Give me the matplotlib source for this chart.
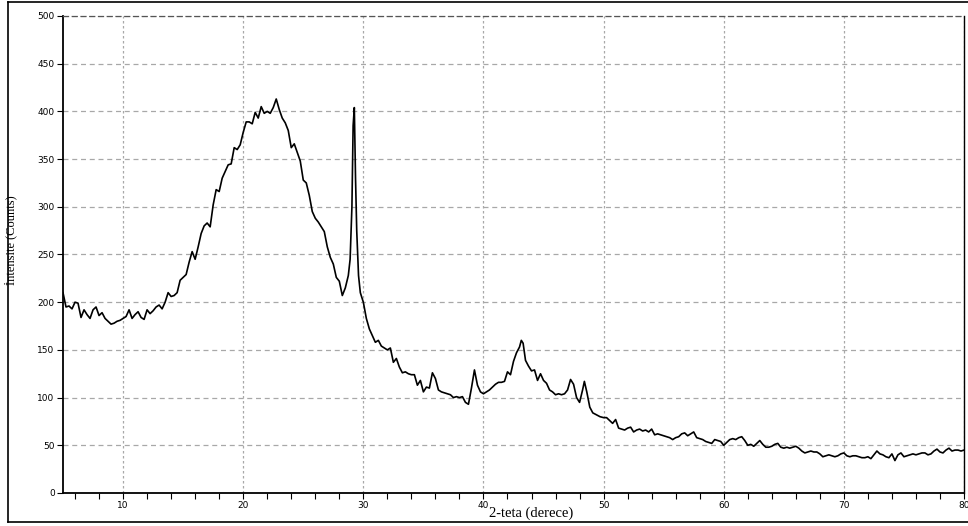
import numpy as np
import matplotlib
matplotlib.use("Agg")
import matplotlib.pyplot as plt
from matplotlib.lines import Line2D

# XRD pattern (2-theta in degrees, counts)
two_theta = [
    5.0, 5.25, 5.5, 5.75, 6.0, 6.25, 6.5, 6.75, 7.0, 7.25, 7.5, 7.75, 8.0, 8.25, 8.5, 8.75,
    9.0, 9.25, 9.5, 9.75, 10.0, 10.25, 10.5, 10.75, 11.0, 11.25, 11.5, 11.75, 12.0, 12.25,
    12.5, 12.75, 13.0, 13.25, 13.5, 13.75, 14.0, 14.25, 14.5, 14.75, 15.0, 15.25, 15.5,
    15.75, 16.0, 16.25, 16.5, 16.75, 17.0, 17.25, 17.5, 17.75, 18.0, 18.25, 18.5, 18.75,
    19.0, 19.25, 19.5, 19.75, 20.0, 20.25, 20.5, 20.75, 21.0, 21.25, 21.5, 21.75, 22.0,
    22.25, 22.5, 22.75, 23.0, 23.25, 23.5, 23.75, 24.0, 24.25, 24.5, 24.75, 25.0, 25.25,
    25.5, 25.75, 26.0, 26.25, 26.5, 26.75, 27.0, 27.25, 27.5, 27.75, 28.0, 28.25, 28.5,
    28.75, 28.9, 29.05, 29.15, 29.25, 29.35, 29.45, 29.6, 29.75, 30.0, 30.25, 30.5, 30.75,
    31.0, 31.25, 31.5, 31.75, 32.0, 32.25, 32.5, 32.75, 33.0, 33.25, 33.5, 33.75, 34.0,
    34.25, 34.5, 34.75, 35.0, 35.25, 35.5, 35.75, 36.0, 36.25, 36.5, 36.75, 37.0, 37.25,
    37.5, 37.75, 38.0, 38.25, 38.5, 38.75, 39.0, 39.25, 39.5, 39.75, 40.0, 40.25, 40.5,
    40.75, 41.0, 41.25, 41.5, 41.75, 42.0, 42.25, 42.5, 42.75, 43.0, 43.15, 43.3, 43.5,
    43.75, 44.0, 44.25, 44.5, 44.75, 45.0, 45.25, 45.5, 45.75, 46.0, 46.25, 46.5, 46.75,
    47.0, 47.25, 47.5, 47.75, 48.0, 48.25, 48.4, 48.6, 48.85, 49.1, 49.4, 49.7, 50.0,
    50.25, 50.5, 50.75, 51.0, 51.25, 51.5, 51.75, 52.0, 52.25, 52.5, 52.75, 53.0, 53.25,
    53.5, 53.75, 54.0, 54.25, 54.5, 54.75, 55.0, 55.25, 55.5, 55.75, 56.0, 56.25, 56.5,
    56.75, 57.0, 57.25, 57.5, 57.75, 58.0, 58.25, 58.5, 58.75, 59.0, 59.25, 59.5, 59.75,
    60.0, 60.25, 60.5, 60.75, 61.0, 61.25, 61.5, 61.75, 62.0, 62.25, 62.5, 62.75, 63.0,
    63.25, 63.5, 63.75, 64.0, 64.25, 64.5, 64.75, 65.0, 65.25, 65.5, 65.75, 66.0, 66.25,
    66.5, 66.75, 67.0, 67.25, 67.5, 67.75, 68.0, 68.25, 68.5, 68.75, 69.0, 69.25, 69.5,
    69.75, 70.0, 70.25, 70.5, 70.75, 71.0, 71.25, 71.5, 71.75, 72.0, 72.25, 72.5, 72.75,
    73.0, 73.25, 73.5, 73.75, 74.0, 74.25, 74.5, 74.75, 75.0, 75.25, 75.5, 75.75, 76.0,
    76.25, 76.5, 76.75, 77.0, 77.25, 77.5, 77.75, 78.0, 78.25, 78.5, 78.75, 79.0, 79.25,
    79.5, 79.75, 80.0,
]
counts = [
    210, 195, 196, 193, 200, 199, 184, 192, 187, 183, 192, 195, 186, 189, 183, 180,
    177, 178, 180, 181, 183, 185, 192, 183, 187, 190, 184, 182, 192, 188,
    191, 195, 197, 193, 200, 210, 206, 207, 210, 223, 226, 229, 242,
    253, 245, 258, 272, 280, 283, 279, 302, 318, 316, 330, 337, 344,
    345, 362, 360, 365, 378, 389, 389, 387, 399, 393, 405, 398, 400,
    398, 404, 413, 402, 393, 388, 380, 362, 366, 357, 348, 328, 325,
    312, 295, 288, 284, 279, 274, 258, 247, 240, 226, 222, 207, 215,
    228, 245, 300, 385, 404, 330, 275, 228, 210, 200, 183, 172, 165,
    158, 160, 154, 152, 150, 152, 137, 141, 132, 126, 127, 125, 124,
    124, 113, 118, 106, 111, 110, 126, 120, 108, 106, 105, 104, 103,
    100, 101, 100, 101, 95, 93, 110, 129, 113, 106, 104, 106, 108,
    111, 114, 116, 116, 117, 127, 124, 138, 147, 153, 160, 157, 139,
    133, 128, 129, 118, 125, 118, 115, 108, 106, 103, 104, 103, 104,
    108, 119, 114, 100, 95, 108, 117, 106, 90, 84, 82, 80, 79,
    79, 76, 73, 77, 68, 67, 66, 68, 69, 64, 66, 67, 65,
    66, 64, 67, 61, 62, 61, 60, 59, 58, 56, 58, 59, 62,
    63, 60, 62, 64, 58, 57, 56, 54, 53, 52, 56, 55, 54,
    50, 53, 56, 57, 56, 58, 59, 55, 50, 51, 49, 52, 55,
    51, 48, 48, 49, 51, 52, 48, 47, 48, 47, 48, 49, 47,
    44, 42, 43, 44, 43, 43, 41, 38, 39, 40, 39, 38, 39,
    41, 42, 39, 38, 39, 39, 38, 37, 37, 38, 36, 40, 44,
    41, 40, 38, 37, 41, 34, 40, 42, 38, 39, 40, 41, 40,
    41, 42, 42, 40, 41, 44, 46, 43, 42, 45, 47, 44, 45,
    45, 44, 45,
]

x_major = [10, 20, 30, 40, 50, 60, 70, 80]
y_major = [0, 50, 100, 150, 200, 250, 300, 350, 400, 450, 500]

fig = plt.figure(figsize=(9.68, 5.26), dpi=100)
ax = fig.add_axes([63 / 968, 1 - 493 / 526, 901 / 968, 477 / 526])

ax.plot(two_theta, counts, color="black", linewidth=1.2)

ax.set_xlim(5, 80)
ax.set_ylim(0, 500)
ax.set_xticks(x_major)
ax.set_xticks(np.arange(6, 80, 2), minor=True)
ax.set_yticks(y_major)

ax.grid(True, axis="x", color="#a8a8a8", linestyle=(0, (2, 2)), linewidth=0.9)
ax.grid(True, axis="y", color="#a8a8a8", linestyle=(0, (4, 3)), linewidth=0.9)
ax.set_axisbelow(True)

ax.tick_params(axis="both", which="major", length=4, width=0.8, labelsize=6.5,
               colors="black", pad=2)
ax.tick_params(axis="x", which="minor", length=4, width=0.8)

for side in ["left", "bottom"]:
    ax.spines[side].set_linewidth(1.3)
ax.spines["right"].set_linewidth(1.0)
ax.spines["top"].set_linestyle((0, (4, 3)))
ax.spines["top"].set_color("#555555")
ax.spines["top"].set_linewidth(0.9)

ax.set_xlabel("2-teta (derece)", family="Liberation Serif", fontsize=10.5)
ax.xaxis.set_label_coords(0.52, -0.029)
ax.set_ylabel("İntensite (Counts)", family="Liberation Serif", fontsize=9)
ax.yaxis.set_label_coords(-0.051, 0.53)

# outer frame of the original screenshot
frame_kw = dict(color="black", linewidth=1.2, transform=fig.transFigure)
fig.add_artist(Line2D([8 / 968, 8 / 968], [4 / 526, 1 - 2 / 526], **frame_kw))
fig.add_artist(Line2D([8 / 968, 1], [1 - 2 / 526, 1 - 2 / 526], **frame_kw))
fig.add_artist(Line2D([8 / 968, 1], [4 / 526, 4 / 526], **frame_kw))

fig.savefig("out.png", dpi=100)
